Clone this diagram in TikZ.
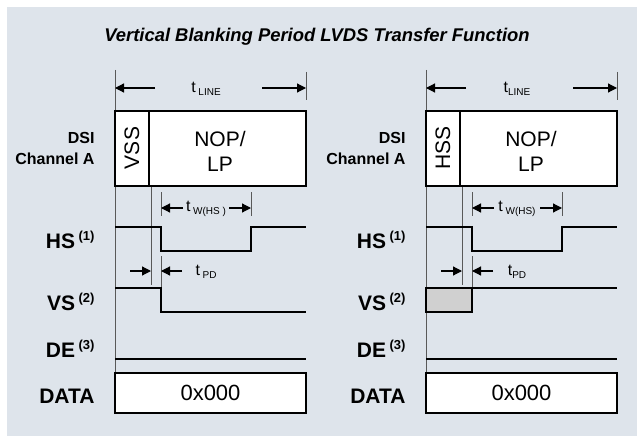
\documentclass[tikz,border=0pt]{standalone}
\usepackage{fontspec}
\setmainfont{Liberation Sans}
\usetikzlibrary{arrows.meta}
\definecolor{bgcol}{HTML}{DEE4EB}
\definecolor{vsgray}{HTML}{D0D0D0}
\newcommand{\tsub}[1]{\raisebox{-3pt}{\fontsize{10}{10}\selectfont #1}}
\newcommand{\supnum}[1]{\,\raisebox{8pt}{\fontsize{13}{13}\selectfont\bfseries(#1)}}

\begin{document}
\begin{tikzpicture}[x=1pt,y=-1pt,
  wave/.style={line width=1.4pt},
  refline/.style={line width=1pt,draw=black!65},
  tip/.style={line width=1.2pt,-{Triangle[length=9pt,width=9pt]}},
  boxed/.style={line width=1.5pt,draw=black,fill=white,inner sep=0pt},
  sig/.style={anchor=base east,font=\bfseries\fontsize{21}{21}\selectfont},
  dsilbl/.style={anchor=base east,font=\bfseries\fontsize{16}{16}\selectfont},
  big/.style={font=\fontsize{21}{25}\selectfont},
  tlab/.style={font=\fontsize{16}{16}\selectfont}]
\useasboundingbox (0,0) rectangle (637,436);
\fill[bgcol] (7,7) rectangle (637,436);
\node[anchor=base,font=\bfseries\itshape\fontsize{18.4}{18.4}\selectfont] (title) at (317,42) {Vertical Blanking Period LVDS Transfer Function};

% left panel
\coordinate (topA) at (115,70);
\coordinate (botA) at (115,373);
\draw[refline] (topA) -- (botA);
\coordinate (endtA) at (306,72);
\coordinate (endbA) at (306,100);
\draw[refline] (endtA) -- (endbA);
\node[tlab] (tlineA) at (206,89) {t\,\tsub{LINE}};
\coordinate (l1A) at (155,88);
\coordinate (l2A) at (262,88);
\draw[tip] (l1A) -- (l1A -| topA);
\draw[tip] (l2A) -- (l2A -| endtA);
\node[dsilbl] (dsiA) at (98,143) {DSI};
\node[dsilbl] (chA) at (98,164) {Channel A};
\node[boxed,minimum width=191pt,minimum height=75pt] (boxA) at (210.5,148.5) {};
\coordinate (divA) at (149,111);
\draw[line width=1.2pt] (divA) -- (divA |- boxA.south);
\node[big,rotate=90] (vssA) at (132,148) {VSS};
\node[big,align=center] (nopA) at (220,151) {NOP/\\LP};
\coordinate (pdtA) at (151,187);
\coordinate (pdbA) at (151,285);
\draw[refline] (pdtA) -- (pdbA);
\coordinate (w1tA) at (161,192);
\coordinate (w1bA) at (161,216);
\coordinate (w2tA) at (251,192);
\coordinate (w2bA) at (251,216);
\draw[refline] (w1tA) -- (w1bA);
\draw[refline] (w2tA) -- (w2bA);
\node[tlab] (twA) at (206,209) {t\,\tsub{W(HS )}};
\coordinate (wa1A) at (183,208);
\coordinate (wa2A) at (229,208);
\draw[tip] (wa1A) -- (wa1A -| w1tA);
\draw[tip] (wa2A) -- (wa2A -| w2tA);
\node[sig] (hsA) at (98,248) {HS\supnum{1}};
\draw[wave] (115,227) -- (161,227) -- (161,251) -- (251,251) -- (251,227) -- (306,227);
\coordinate (pd1A) at (161,256);
\coordinate (pd2A) at (161,288);
\draw[refline] (pd1A) -- (pd2A);
\node[tlab] (tpdA) at (206,272) {t\,\tsub{PD}};
\coordinate (pa1A) at (130,271);
\coordinate (pa2A) at (182,271);
\draw[tip] (pa1A) -- (pa1A -| pdtA);
\draw[tip] (pa2A) -- (pa2A -| pd1A);
\node[sig] (vsA) at (98,310) {VS\supnum{2}};
\draw[wave] (115,288) -- (161,288) -- (161,312) -- (306,312);
\node[sig] (deA) at (98,357) {DE\supnum{3}};
\draw[wave] (115,359) -- (306,359);
\node[sig] (datalA) at (98,403) {DATA};
\node[boxed,minimum width=191pt,minimum height=40pt,font=\fontsize{22}{22}\selectfont] (dataA) at (210.5,393) {0x000};

% right panel
\coordinate (topB) at (426,70);
\coordinate (botB) at (426,373);
\draw[refline] (topB) -- (botB);
\coordinate (endtB) at (617,72);
\coordinate (endbB) at (617,100);
\draw[refline] (endtB) -- (endbB);
\node[tlab] (tlineB) at (517,89) {t\tsub{LINE}};
\coordinate (l1B) at (466,88);
\coordinate (l2B) at (573,88);
\draw[tip] (l1B) -- (l1B -| topB);
\draw[tip] (l2B) -- (l2B -| endtB);
\node[dsilbl] (dsiB) at (409,143) {DSI};
\node[dsilbl] (chB) at (409,164) {Channel A};
\node[boxed,minimum width=191pt,minimum height=75pt] (boxB) at (521.5,148.5) {};
\coordinate (divB) at (460,111);
\draw[line width=1.2pt] (divB) -- (divB |- boxB.south);
\node[big,rotate=90] (hssB) at (443,148) {HSS};
\node[big,align=center] (nopB) at (531,151) {NOP/\\LP};
\coordinate (pdtB) at (462,187);
\coordinate (pdbB) at (462,285);
\draw[refline] (pdtB) -- (pdbB);
\coordinate (w1tB) at (472,192);
\coordinate (w1bB) at (472,216);
\coordinate (w2tB) at (562,192);
\coordinate (w2bB) at (562,216);
\draw[refline] (w1tB) -- (w1bB);
\draw[refline] (w2tB) -- (w2bB);
\node[tlab] (twB) at (517,209) {t\,\tsub{W(HS)}};
\coordinate (wa1B) at (494,208);
\coordinate (wa2B) at (540,208);
\draw[tip] (wa1B) -- (wa1B -| w1tB);
\draw[tip] (wa2B) -- (wa2B -| w2tB);
\node[sig] (hsB) at (409,248) {HS\supnum{1}};
\draw[wave] (426,227) -- (472,227) -- (472,251) -- (562,251) -- (562,227) -- (617,227);
\coordinate (pd1B) at (472,256);
\coordinate (pd2B) at (472,288);
\draw[refline] (pd1B) -- (pd2B);
\node[tlab] (tpdB) at (517,272) {t\tsub{PD}};
\coordinate (pa1B) at (441,271);
\coordinate (pa2B) at (493,271);
\draw[tip] (pa1B) -- (pa1B -| pdtB);
\draw[tip] (pa2B) -- (pa2B -| pd1B);
\node[sig] (vsB) at (409,310) {VS\supnum{2}};
\filldraw[wave,fill=vsgray] (426,288) rectangle (472,312);
\draw[wave] (426,288) -- (617,288);
\node[sig] (deB) at (409,357) {DE\supnum{3}};
\draw[wave] (426,359) -- (617,359);
\node[sig] (datalB) at (409,403) {DATA};
\node[boxed,minimum width=191pt,minimum height=40pt,font=\fontsize{22}{22}\selectfont] (dataB) at (521.5,393) {0x000};
\end{tikzpicture}
\end{document}
